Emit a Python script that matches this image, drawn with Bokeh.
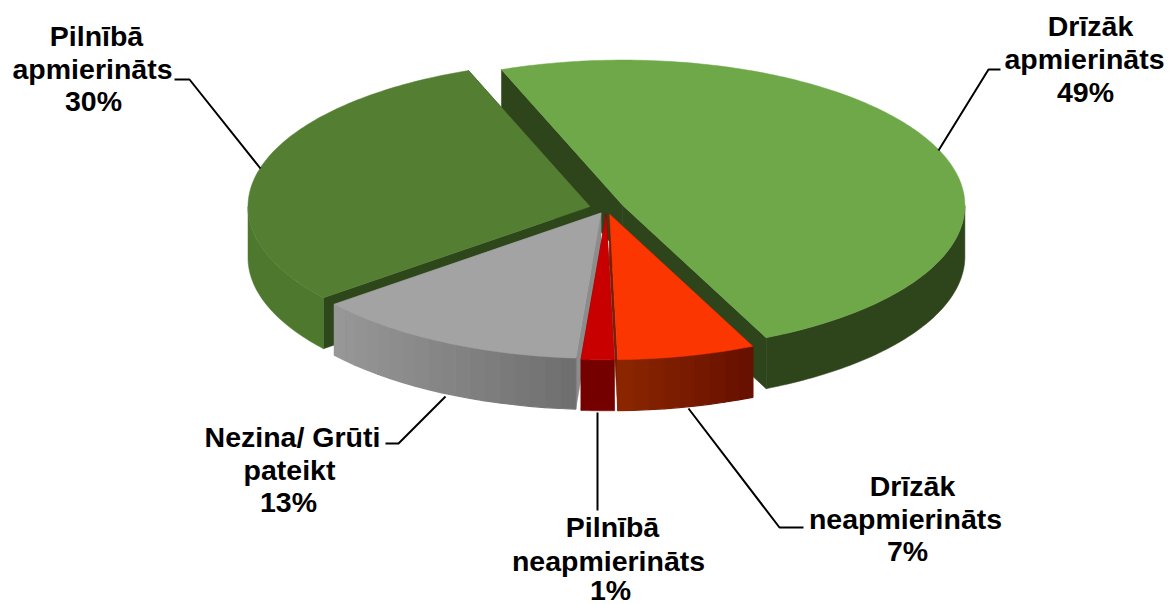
import math
from bokeh.plotting import figure
from bokeh.core.properties import value
from bokeh.embed import file_html
from bokeh.resources import INLINE

# ---- data ----
categories = ["Drīzāk apmierināts", "Drīzāk neapmierināts", "Pilnībā neapmierināts",
              "Nezina/ Grūti pateikt", "Pilnībā apmierināts"]
shares = [48.9, 6.5, 1.55, 13.05, 30.0]
labels = [["Drīzāk", "apmierināts", "49%"],
          ["Drīzāk", "neapmierināts", "7%"],
          ["Pilnībā", "neapmierināts", "1%"],
          ["Nezina/ Grūti", "pateikt", "13%"],
          ["Pilnībā", "apmierināts", "30%"]]

# ---- styles ----
top_colors = ["#6ea848", "#fb3600", "#c80000", "#a3a3a3", "#547f33"]
cut_colors = ["#2e451c", "#7c1c00", "#750000", "#8c8c8c", "#2d471b"]
wall_left = ["#2e451c", "#8c2600", "#750000", "#989898", "#4e782e"]
wall_right = ["#2e451c", "#661000", "#750000", "#6e6e6e", "#4e782e"]
explode = [0.052, 0.04, 0.04, 0.035, 0.05]
draw_order = [0, 4, 3, 1, 2]
label_x = [[1090, 1084, 1085], [912, 905, 907], [612, 608, 610], [292, 289, 288], [96, 92, 93]]
label_base = [[37, 70, 103], [497, 530, 562], [538, 572, 601], [448, 481, 513], [47, 80, 112]]
TEXT_SHIFT = -12
leaders = [[(1000, 69), (988, 69), (938, 150)],
           [(803, 527), (779, 527), (688, 408)],
           [(597, 510), (597, 412)],
           [(385, 443), (398, 443), (445, 396)],
           [(174, 79), (189, 79), (260, 168)]]
CX, CY, RX, RY, DEPTH = 606, 208, 342, 145.5, 51
START = -20.8
W, H = 1169, 604

p = figure(width=W, height=H, x_range=(0, W), y_range=(H, 0),
           output_backend="svg", toolbar_location=None, min_border=0,
           x_axis_location=None, y_axis_location=None,
           outline_line_color=None, background_fill_color="white",
           border_fill_color="white")
p.grid.visible = False


def hexmix(a, b, t):
    ca = [int(a[i:i + 2], 16) for i in (1, 3, 5)]
    cb = [int(b[i:i + 2], 16) for i in (1, 3, 5)]
    return "#%02x%02x%02x" % tuple(round(x + (y - x) * t) for x, y in zip(ca, cb))


def fill(xs, ys, color, lw=0.5):
    p.patch(xs, ys, fill_color=color, line_color=color, line_width=lw)


spans = []
a = START
for s in shares:
    spans.append((a, a + s * 3.6))
    a += s * 3.6

for i in draw_order:
    a0, a1 = spans[i]
    mid = math.radians((a0 + a1) / 2)
    ax = CX + math.sin(mid) * explode[i] * RX
    ay = CY - math.cos(mid) * explode[i] * RY

    def pt(deg):
        r = math.radians(deg)
        return ax + RX * math.sin(r), ay - RY * math.cos(r)

    # cut faces
    for edge in (a0, a1):
        ex, ey = pt(edge)
        fill([ax, ex, ex, ax], [ay, ey, ey + DEPTH, ay + DEPTH], cut_colors[i])
    # outer wall, only the part that faces the viewer
    w0, w1 = max(a0, 90), min(a1, 270)
    if w1 > w0:
        if wall_left[i] == wall_right[i]:
            n = int(w1 - w0) + 1
            arc = [pt(w0 + (w1 - w0) * k / n) for k in range(n + 1)]
            xs = [q[0] for q in arc] + [q[0] for q in reversed(arc)]
            ys = [q[1] for q in arc] + [q[1] + DEPTH for q in reversed(arc)]
            fill(xs, ys, wall_left[i])
        else:
            n = max(2, int((w1 - w0) / 2.5))
            xlo, xhi = pt(w1)[0], pt(w0)[0]
            for k in range(n):
                d0 = w0 + (w1 - w0) * k / n
                d1 = w0 + (w1 - w0) * (k + 1) / n
                x0, y0 = pt(d0)
                x1, y1 = pt(d1)
                t = (((x0 + x1) / 2) - xlo) / max(xhi - xlo, 1)
                fill([x0, x1, x1, x0], [y0, y1, y1 + DEPTH, y0 + DEPTH],
                     hexmix(wall_left[i], wall_right[i], t), lw=1.2)
    # top face
    n = max(4, int((a1 - a0) / 1.0))
    arc = [pt(a0 + (a1 - a0) * k / n) for k in range(n + 1)]
    fill([ax] + [q[0] for q in arc], [ay] + [q[1] for q in arc], top_colors[i])

for line in leaders:
    p.line([q[0] for q in line], [q[1] for q in line], line_color="black", line_width=2)

for i, lines in enumerate(labels):
    p.text(label_x[i], [b + TEXT_SHIFT for b in label_base[i]], text=lines, text_align="center",
           text_baseline="alphabetic", text_font=value("Liberation Sans"),
           text_font_style="bold", text_font_size="28.5px", text_color="black")

open("out.html", "w").write(file_html(p, INLINE))
